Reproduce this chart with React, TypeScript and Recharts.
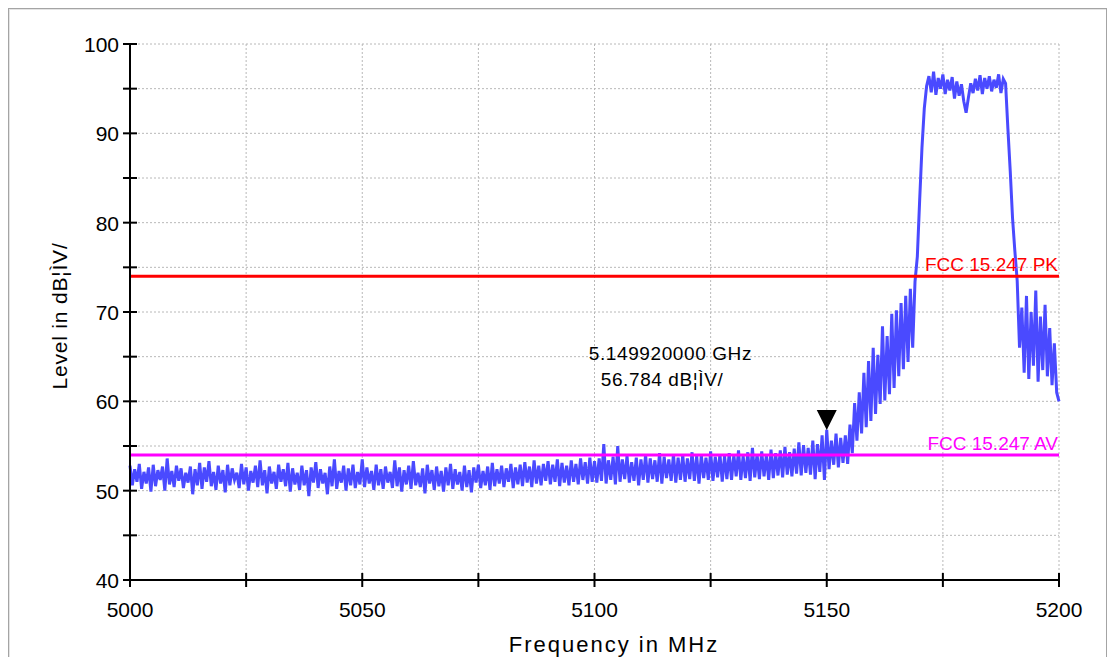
import { CartesianGrid, Line, LineChart, ReferenceDot, ReferenceLine, XAxis, YAxis } from "recharts";

// sweep step of the analyser trace, MHz
const STEP = 0.5;

// trace levels in dBµV, one value every 0.5 MHz
const floorLow = [
  52.8, 50.6, 52.4, 51.0, 53.0, 50.2, 52.1, 50.8, 52.6, 49.9,
  52.9, 50.5, 52.3, 51.2, 52.7, 50.0, 53.6, 50.7, 52.2, 50.4,
  52.8, 51.1, 52.5, 50.3, 52.0, 50.9, 52.7, 49.6, 52.4, 50.6,
  53.1, 50.2, 52.6, 51.0, 53.3, 50.5, 52.1, 50.1, 52.8, 50.8,
  52.3, 49.8, 52.9, 50.6, 52.5, 51.2, 52.0, 50.3, 53.0, 50.7,
  52.6, 50.0, 52.2, 50.9, 52.8, 50.4, 53.4, 50.6, 52.3, 49.7,
  52.7, 50.8, 52.1, 50.2, 52.9, 51.0, 52.4, 50.5, 53.1, 49.9,
  52.5, 50.7, 52.0, 50.1, 52.8, 50.6, 52.3, 49.4, 52.6, 50.9,
  53.2, 50.3, 52.4, 50.8, 52.0, 49.6, 52.7, 50.5, 53.5, 50.2,
  52.2, 50.9, 52.8, 50.0, 52.5, 50.6, 52.9, 50.3, 52.1, 50.7,
]; // 5000 - 5049.5

const floorMid = [
  53.5, 50.4, 52.6, 50.8, 52.2, 50.1, 52.9, 50.6, 52.4, 50.2,
  52.7, 50.9, 52.1, 50.3, 53.4, 50.5, 52.6, 49.9, 52.3, 50.7,
  52.8, 50.2, 53.3, 50.6, 52.0, 50.4, 52.5, 49.7, 52.9, 50.8,
  52.3, 50.1, 52.7, 50.5, 52.2, 49.9, 52.6, 50.6, 53.0, 50.2,
  52.4, 50.7, 52.1, 50.0, 52.8, 50.4, 52.3, 49.8, 52.6, 50.9,
  52.9, 50.3, 52.2, 50.6, 52.7, 50.1, 53.1, 50.5, 52.4, 50.8,
  52.8, 50.4, 52.5, 51.0, 53.0, 50.3, 52.6, 50.7, 52.9, 50.5,
  53.2, 50.9, 52.7, 50.4, 53.4, 50.8, 52.8, 50.6, 53.0, 51.1,
  53.3, 50.7, 52.9, 51.0, 53.5, 50.5, 53.1, 50.9, 52.8, 50.6,
  53.4, 51.0, 53.0, 50.7, 53.6, 51.2, 53.2, 50.8, 53.7, 51.0,
]; // 5050 - 5099.5

const floorHigh = [
  53.3, 50.9, 53.6, 51.1, 55.2, 50.8, 53.4, 51.2, 53.8, 50.7,
  55.0, 51.0, 53.5, 51.3, 53.9, 50.9, 53.2, 51.1, 53.7, 50.6,
  53.5, 51.2, 54.0, 50.9, 53.6, 51.3, 53.4, 51.0, 54.2, 50.8,
  53.8, 51.4, 53.5, 51.1, 54.1, 50.9, 53.7, 51.2, 54.0, 51.0,
  53.6, 51.3, 54.3, 51.1, 53.9, 50.8, 54.0, 51.4, 53.7, 51.2,
  54.4, 51.1, 53.8, 51.5, 54.1, 51.0, 53.9, 51.3, 54.2, 51.2,
  54.0, 51.6, 54.5, 51.2, 53.9, 51.4, 54.3, 51.1, 54.8, 51.5,
  54.1, 51.3, 54.4, 51.6, 54.0, 51.2, 54.6, 51.4, 54.2, 51.7,
  54.5, 51.5, 54.9, 51.8, 54.3, 51.6, 54.7, 51.9, 55.4, 51.7,
  55.1, 52.0, 54.8, 51.8, 55.6, 51.3, 55.2, 52.1, 56.2, 51.2,
]; // 5100 - 5149.5

const riseEdge = [
  56.8, 52.4, 55.6, 52.9, 56.4, 52.6, 55.9, 53.1, 56.2, 53.0,
  57.4, 54.2, 59.8, 55.6, 61.0, 56.4, 63.2, 57.1, 64.5, 57.8,
  66.0, 58.6, 65.2, 59.7, 68.4, 60.1, 67.3, 60.8, 69.8, 61.5,
  70.2, 62.8, 71.0, 63.6, 71.8, 64.4, 72.6, 66.0, 73.4, 76.2,
]; // 5150 - 5169.5

const channel = [
  82.5, 88.4, 92.8, 95.3, 96.4, 94.6, 96.9, 94.3, 96.2, 95.0,
  96.6, 94.4, 96.0, 94.8, 96.3, 93.9, 95.8, 94.2, 95.5, 93.6,
  92.3, 94.0, 95.6, 94.5, 96.1, 94.8, 96.5, 94.4, 96.2, 95.0,
  96.4, 94.7, 96.0, 95.1, 96.6, 94.5, 96.1, 95.6, 90.5, 85.8,
]; // 5170 - 5189.5

const fallEdge = [
  80.5, 76.8, 73.5, 66.0, 70.5, 63.2, 71.8, 62.5, 70.0, 64.0,
  72.4, 62.2, 69.5, 63.5, 70.8, 62.8, 68.2, 61.8, 66.5, 61.0,
  60.0,
]; // 5190 - 5200

const segments = [
  { start: 5000, levels: floorLow },
  { start: 5050, levels: floorMid },
  { start: 5100, levels: floorHigh },
  { start: 5150, levels: riseEdge },
  { start: 5170, levels: channel },
  { start: 5190, levels: fallEdge },
];

const trace = segments.flatMap((s) =>
  s.levels.map((level, i) => ({ freq: s.start + i * STEP, level }))
);

const xTicks = [5000, 5025, 5050, 5075, 5100, 5125, 5150, 5175, 5200];
const xLabels = [5000, 5050, 5100, 5150, 5200];
const yTicks = [40, 45, 50, 55, 60, 65, 70, 75, 80, 85, 90, 95, 100];
const yLabels = [40, 50, 60, 70, 80, 90, 100];

const limitPk = 74;
const limitAv = 54;
const marker = { freq: 5150, level: 56.784 };

const FONT = "'Liberation Sans', Arial, sans-serif";

const XTick = (props: any) => {
  const { x, y, payload } = props;
  return (
    <g>
      <line x1={x} x2={x} y1={y - 7} y2={y + 7} stroke="#000" strokeWidth={2} />
      {xLabels.includes(payload.value) && (
        <text x={x} y={y + 37} textAnchor="middle" fontSize={21} fontFamily={FONT} fill="#000">
          {payload.value}
        </text>
      )}
    </g>
  );
};

const YTick = (props: any) => {
  const { x, y, payload } = props;
  return (
    <g>
      <line x1={x - 7} x2={x + 7} y1={y} y2={y} stroke="#000" strokeWidth={2} />
      {yLabels.includes(payload.value) && (
        <text x={x - 11} y={y + 8} textAnchor="end" fontSize={21} fontFamily={FONT} fill="#000">
          {payload.value}
        </text>
      )}
    </g>
  );
};

const limitLabel = (text: string, color: string) => (props: any) => {
  const vb = props.viewBox;
  return (
    <text
      x={vb.x + vb.width - 1}
      y={vb.y - 5}
      textAnchor="end"
      fontSize={19}
      fontFamily={FONT}
      fill={color}
    >
      {text}
    </text>
  );
};

const MarkerShape = (props: any) => {
  const { cx, cy } = props;
  return (
    <g>
      <polygon points={`${cx - 10},${cy - 20} ${cx + 10},${cy - 20} ${cx},${cy}`} fill="#000" />
      <text x={cx - 238} y={cy - 70} fontSize={19} fontFamily={FONT} fill="#000" letterSpacing={0.6}>
        5.149920000 GHz
      </text>
      <text x={cx - 226} y={cy - 44} fontSize={19} fontFamily={FONT} fill="#000" letterSpacing={0.6}>
        56.784 dB¦ÌV/
      </text>
    </g>
  );
};

export default function App() {
  return (
    <div style={{ position: "absolute", left: 0, top: 0, width: 1108, height: 657, background: "#fff", overflow: "hidden" }}>
      <div
        style={{
          position: "absolute",
          left: 8,
          top: 8,
          width: 1097,
          height: 700,
          border: "1px solid #a4a4a4",
          boxShadow: "inset 1px 1px 0 #e4e4e4",
        }}
      />
      <div style={{ position: "absolute", left: 0, top: 0 }}>
        <LineChart width={1108} height={657} data={trace} margin={{ top: 44, right: 49, bottom: 0, left: 0 }}>
          <CartesianGrid stroke="#b8b8b8" strokeDasharray="2 2" strokeWidth={1} />
          <XAxis
            dataKey="freq"
            type="number"
            domain={[5000, 5200]}
            ticks={xTicks}
            interval={0}
            height={77}
            tickSize={0}
            tickMargin={0}
            axisLine={{ stroke: "#000", strokeWidth: 2 }}
            tickLine={false}
            tick={<XTick />}
            label={() => (
              <text x={614} y={652} textAnchor="middle" fontSize={22} fontFamily={FONT} letterSpacing={2} fill="#000">
                Frequency in MHz
              </text>
            )}
          />
          <YAxis
            type="number"
            domain={[40, 100]}
            ticks={yTicks}
            interval={0}
            width={130}
            tickSize={0}
            tickMargin={0}
            axisLine={{ stroke: "#000", strokeWidth: 2 }}
            tickLine={false}
            tick={<YTick />}
            label={() => (
              <text
                x={67}
                y={316}
                transform="rotate(-90 67 316)"
                textAnchor="middle"
                fontSize={21}
                fontFamily={FONT}
                letterSpacing={0.8}
                fill="#000"
              >
                Level in dB¦ÌV/
              </text>
            )}
          />
          <Line
            dataKey="level"
            type="linear"
            stroke="#4a4aff"
            strokeWidth={3}
            dot={false}
            isAnimationActive={false}
          />
          <ReferenceLine y={limitPk} stroke="#ff0000" strokeWidth={3} label={limitLabel("FCC 15.247 PK", "#ff0000")} />
          <ReferenceLine y={limitAv} stroke="#ff00ff" strokeWidth={3} label={limitLabel("FCC 15.247 AV", "#ff00ff")} />
          <ReferenceDot x={marker.freq} y={marker.level} shape={<MarkerShape />} />
        </LineChart>
      </div>
    </div>
  );
}
